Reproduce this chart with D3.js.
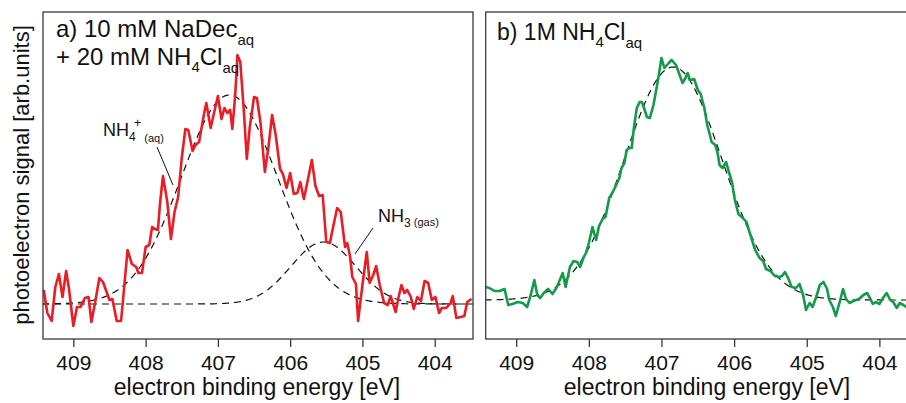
<!DOCTYPE html>
<html>
<head>
<meta charset="utf-8">
<script src="https://cdn.jsdelivr.net/npm/d3@7"></script>
<style>
  body { margin: 0; background: #fff; }
  svg { display: block; font-family: "Liberation Sans", Arial, sans-serif; }
</style>
</head>
<body>
<script>
// panel a) 10 mM NaDec + 20 mM NH4Cl, measured spectrum
var redEnergy = [
    409.41, 409.36, 409.30, 409.25, 409.20, 409.15, 409.10, 409.06, 409.00, 408.95,
    408.90, 408.84, 408.79, 408.75, 408.70, 408.64, 408.59, 408.54, 408.50, 408.46,
    408.40, 408.34, 408.30, 408.25, 408.19, 408.13, 408.10, 408.05, 408.00, 407.95,
    407.91, 407.87, 407.83, 407.80, 407.76, 407.70, 407.65, 407.60, 407.55, 407.50,
    407.45, 407.41, 407.35, 407.31, 407.26, 407.20, 407.16, 407.10, 407.05, 407.00,
    406.95, 406.91, 406.87, 406.83, 406.80, 406.76, 406.73, 406.69, 406.64, 406.60,
    406.56, 406.50, 406.46, 406.41, 406.35, 406.30, 406.25, 406.20, 406.14, 406.10,
    406.05, 406.00, 405.95, 405.90, 405.86, 405.81, 405.75, 405.70, 405.65, 405.60,
    405.55, 405.50, 405.45, 405.40, 405.35, 405.30, 405.24, 405.21, 405.17, 405.14,
    405.09, 405.06, 405.00, 404.94, 404.90, 404.85, 404.81, 404.76, 404.70, 404.65,
    404.61, 404.54, 404.50, 404.46, 404.42, 404.38, 404.33, 404.29, 404.24, 404.19,
    404.14, 404.09, 404.04, 403.99, 403.94, 403.90, 403.84, 403.78, 403.75, 403.70,
    403.64, 403.59, 403.55, 403.49
];
var redSignal = [
    49, 26, 18, 52, 65, 42, 68, 50, 13, 32,
    32, 41, 42, 17, 36, 61, 57, 47, 39, 40,
    18, 18, 49, 89, 75, 72, 66, 66, 92, 94,
    112, 110, 109, 136, 163, 137, 100, 127, 142, 181,
    210, 209, 188, 194, 197, 222, 236, 211, 227, 243,
    220, 231, 226, 229, 210, 244, 284, 277, 227, 180,
    211, 242, 241, 216, 167, 192, 224, 204, 170, 165,
    151, 166, 145, 146, 157, 140, 161, 179, 153, 143,
    144, 97, 96, 114, 131, 127, 92, 96, 82, 62,
    55, 18, 54, 87, 56, 64, 73, 54, 36, 34,
    43, 27, 42, 54, 46, 49, 42, 30, 42, 38,
    58, 56, 39, 42, 26, 31, 31, 36, 43, 21,
    22, 23, 37, 40
];

// panel b) 1M NH4Cl
var greenEnergy = [
    409.42, 409.37, 409.30, 409.23, 409.16, 409.11, 409.05, 408.98, 408.91, 408.85,
    408.80, 408.75, 408.71, 408.67, 408.62, 408.56, 408.50, 408.44, 408.36, 408.32,
    408.26, 408.21, 408.16, 408.12, 408.07, 408.04, 408.00, 407.95, 407.90, 407.86,
    407.81, 407.77, 407.72, 407.67, 407.63, 407.58, 407.55, 407.51, 407.48, 407.44,
    407.41, 407.38, 407.34, 407.30, 407.27, 407.24, 407.20, 407.16, 407.11, 407.06,
    407.03, 407.00, 406.96, 406.90, 406.86, 406.80, 406.74, 406.71, 406.67, 406.64,
    406.61, 406.55, 406.50, 406.46, 406.41, 406.37, 406.34, 406.31, 406.26, 406.23,
    406.20, 406.16, 406.11, 406.08, 406.03, 405.99, 405.94, 405.88, 405.83, 405.78,
    405.71, 405.65, 405.60, 405.56, 405.50, 405.44, 405.38, 405.34, 405.30, 405.25,
    405.21, 405.15, 405.10, 405.05, 405.01, 404.96, 404.92, 404.87, 404.82, 404.77,
    404.72, 404.69, 404.64, 404.60, 404.55, 404.50, 404.46, 404.41, 404.36, 404.28,
    404.22, 404.17, 404.13, 404.09, 404.05, 404.00, 403.95, 403.90, 403.85, 403.81,
    403.76, 403.72, 403.67, 403.63, 403.56, 403.49
];
var greenSignal = [
    52, 51, 48, 48, 50, 34, 35, 37, 36, 32,
    44, 59, 44, 41, 46, 50, 45, 52, 66, 52,
    72, 78, 77, 72, 82, 86, 96, 112, 99, 113,
    120, 122, 141, 147, 153, 161, 171, 176, 189, 191,
    191, 211, 231, 237, 237, 231, 222, 221, 234, 254,
    267, 281, 271, 276, 279, 274, 262, 256, 261, 266,
    259, 260, 249, 245, 231, 214, 206, 197, 194, 187,
    174, 171, 177, 169, 157, 139, 125, 121, 117, 105,
    89, 81, 78, 70, 68, 63, 62, 63, 67, 60,
    52, 51, 55, 44, 29, 36, 32, 42, 54, 57,
    50, 39, 32, 23, 36, 50, 40, 36, 38, 40,
    44, 46, 41, 35, 37, 35, 41, 46, 39, 37,
    31, 36, 34, 32, 36, 34
];

// fitted components: [centre eV, sigma eV, amplitude], plus flat background
var fitBackgroundA = 35;
var fitPeaksA = [[406.84, 0.665, 209], [405.54, 0.45, 62]];
var fitBackgroundB = 39;
var fitPeaksB = [[406.84, 0.67, 233]];

var tickValues = [409, 408, 407, 406, 405, 404];
var xLabel = "electron binding energy [eV]";
var yLabel = "photoelectron signal [arb.units]";

var width = 906, height = 403;

var svg = d3.select("body").append("svg")
    .attr("width", width)
    .attr("height", height);

var y = d3.scaleLinear().domain([0, 327]).range([339, 12]);

var xA = d3.scaleLinear().domain([409.42, 403.47]).range([43, 473]);
var xB = d3.scaleLinear().domain([409.42, 403.5]).range([485.7, 915.7]);

function fitCurve(bg, peaks, lo, hi){
    return d3.range(hi, lo - 0.001, -0.01).map(function(e){
        var v = bg;
        peaks.forEach(function(p){
            v += p[2] * Math.exp(-0.5 * Math.pow((e - p[0]) / p[1], 2));
        });
        return [e, v];
    });
}

function drawPanel(id, x, energy, signal, color, fits){
    var x0 = x.range()[0], x1 = x.range()[1];

    svg.append("clipPath").attr("id", "clip" + id)
        .append("rect")
        .attr("x", x0).attr("y", y.range()[1])
        .attr("width", x1 - x0).attr("height", y.range()[0] - y.range()[1]);

    var g = svg.append("g").attr("clip-path", "url(#clip" + id + ")");

    var line = d3.line()
        .x(function(d){ return x(d[0]); })
        .y(function(d){ return y(d[1]); });

    fits.forEach(function(f){
        g.append("path")
            .datum(f)
            .attr("d", line)
            .attr("fill", "none")
            .attr("stroke", "#111")
            .attr("stroke-width", 1.2)
            .attr("stroke-dasharray", "7,5");
    });

    g.append("path")
        .datum(energy.map(function(e, i){ return [e, signal[i]]; }))
        .attr("d", line)
        .attr("fill", "none")
        .attr("stroke", color)
        .attr("stroke-width", 2.6)
        .attr("stroke-linejoin", "round");

    svg.append("rect")
        .attr("x", x0).attr("y", y.range()[1])
        .attr("width", x1 - x0).attr("height", y.range()[0] - y.range()[1])
        .attr("fill", "none")
        .attr("stroke", "#3a3a3a")
        .attr("stroke-width", 1.3);

    var axis = svg.append("g")
        .attr("transform", "translate(0," + y.range()[0] + ")")
        .call(d3.axisBottom(x).tickValues(tickValues).tickSize(8).tickPadding(8)
            .tickFormat(d3.format("d")));
    axis.select(".domain").remove();
    axis.selectAll(".tick line").attr("stroke", "#3a3a3a").attr("stroke-width", 1.3);
    axis.selectAll(".tick text")
        .attr("font-family", "'Liberation Sans', Arial, sans-serif")
        .attr("font-size", 21)
        .attr("fill", "#111");
}

drawPanel("a", xA, redEnergy, redSignal, "#ec1c24", [
    fitCurve(fitBackgroundA, [fitPeaksA[0]], 403.3, 409.6),
    fitCurve(fitBackgroundA, [fitPeaksA[1]], 403.3, 409.6)
]);
drawPanel("b", xB, greenEnergy, greenSignal, "#129b48", [
    fitCurve(fitBackgroundB, fitPeaksB, 403.3, 409.6)
]);

// axis titles
svg.append("text")
    .attr("x", 257).attr("y", 395)
    .attr("text-anchor", "middle")
    .attr("font-size", 23)
    .attr("fill", "#111")
    .text(xLabel);
svg.append("text")
    .attr("x", 707).attr("y", 395)
    .attr("text-anchor", "middle")
    .attr("font-size", 23)
    .attr("fill", "#111")
    .text(xLabel);
svg.append("text")
    .attr("transform", "translate(29,175) rotate(-90)")
    .attr("text-anchor", "middle")
    .attr("font-size", 22)
    .attr("fill", "#111")
    .text(yLabel);

// panel titles with subscripts
function subText(xp, yp, parts, size){
    var t = svg.append("text").attr("x", xp).attr("y", yp)
        .attr("font-size", size).attr("fill", "#111");
    var shift = 0;
    parts.forEach(function(p){
        var s = t.append("tspan").text(p[0]);
        var target = p[1] || 0;
        s.attr("dy", target - shift);
        shift = target;
        if (p[2]) s.attr("font-size", p[2]);
        if (p[3]) s.attr("dx", p[3]);
    });
    return t;
}

subText(56, 37, [["a) 10 mM NaDec"], ["aq", 8, 15]], 24);
subText(56, 65, [["+ 20 mM NH"], ["4", 7, 15], ["Cl", 0], ["aq", 8, 15]], 24);
subText(497, 40, [["b) 1M NH"], ["4", 7, 15], ["Cl", 0], ["aq", 8, 15]], 23);

// peak labels
subText(103, 136, [["NH"], ["4", 5, 12], ["+", -9, 13, -2], [" (aq)", 6, 11]], 18);
subText(378, 222, [["NH"], ["3", 5, 12], [" (gas)", 4, 11]], 18);

svg.append("line")
    .attr("x1", 157).attr("y1", 147).attr("x2", 173).attr("y2", 185)
    .attr("stroke", "#111").attr("stroke-width", 1);
svg.append("line")
    .attr("x1", 373).attr("y1", 228).attr("x2", 355).attr("y2", 254)
    .attr("stroke", "#111").attr("stroke-width", 1);
</script>
</body>
</html>
